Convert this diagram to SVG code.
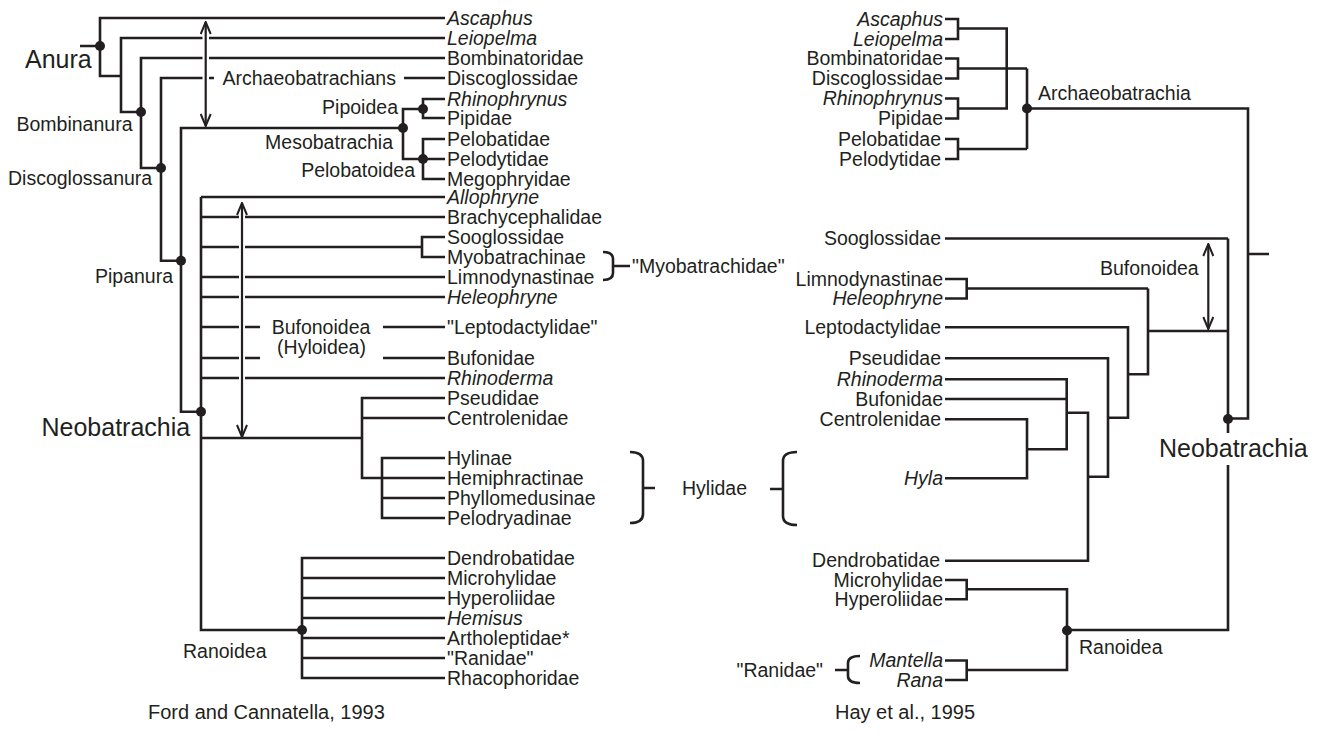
<svg xmlns="http://www.w3.org/2000/svg" width="1328" height="746" viewBox="0 0 1328 746">
<defs>
<style>
.ln{stroke:#231f20;stroke-width:2.6;fill:none;stroke-linecap:butt}
.ar{stroke:#231f20;stroke-width:2.2;fill:none}
.dot{fill:#231f20}
text{font-family:"Liberation Sans",Arial,Helvetica,sans-serif;font-size:19.5px;fill:#231f20}
.i{font-style:italic}
.big{font-size:25px}
.cap{font-size:20px}
.e{text-anchor:end}
.m{text-anchor:middle}
</style>
<marker id="vh" viewBox="0 0 14 12" refX="13" refY="6" markerUnits="userSpaceOnUse" markerWidth="14" markerHeight="12" orient="auto-start-reverse">
<path d="M1,1 L13,6 L1,11" fill="none" stroke="#231f20" stroke-width="2"/>
</marker>
</defs>
<rect width="1328" height="746" fill="#ffffff"/>

<g id="connectors">
<!-- Left tree: Ford and Cannatella 1993 -->
<path class="ln" d="M80 46 H100 M445 18 H100 V76 H121"/>
<path class="ln" d="M445 38 H209 M202.5 38 H121 V112 H141"/>
<path class="ln" d="M445 58 H209 M202.5 58 H141 V168 H161"/>
<path class="ln" d="M445 78 H404 M214 78 H209 M202.5 78 H161 V260.7 H181"/>
<path class="ln" d="M403 128 H181 V411.7 H201"/>
<path class="ln" d="M423 109 H403 V159 H423"/>
<path class="ln" d="M445 99 H423 V118 H445"/>
<path class="ln" d="M445 139 H423 V179 H445 M423 159 H445"/>
<path class="ln" d="M201 197 V630 H302 M445 197 H201"/>
<path class="ln" d="M201 217 H239 M245 217 H445"/>
<path class="ln" d="M201 247 H239 M245 247 H422 M445 237 H422 V257 H445"/>
<path class="ln" d="M201 277 H239 M245 277 H445"/>
<path class="ln" d="M201 297 H239 M245 297 H445"/>
<path class="ln" d="M201 327 H239 M245 327 H260 M383 327 H445"/>
<path class="ln" d="M201 358 H239 M245 358 H260 M383 358 H445"/>
<path class="ln" d="M201 378 H239 M245 378 H445"/>
<path class="ln" d="M201 438 H362 M445 398 H362 V478 H382 M445 418 H362"/>
<path class="ln" d="M445 458 H382 V518 H445 M382 478 H445 M382 498 H445"/>
<path class="ln" d="M445 558 H302 V678 H445 M302 578 H445 M302 598 H445 M302 618 H445 M302 638 H445 M302 658 H445"/>
<path class="ar" d="M205.7 22 V126" marker-start="url(#vh)" marker-end="url(#vh)"/>
<path class="ar" d="M242 203 V437" marker-start="url(#vh)" marker-end="url(#vh)"/>
<!-- braces -->
<path class="ln" d="M603 252 Q613 252 613 259 V273 Q613 280 603 280 M613 266 H630"/>
<path class="ln" d="M630 452 Q643 452 643 461 V514 Q643 523 630 523 M643 488 H655"/>
<path class="ln" d="M797 452 Q783 452 783 461 V516 Q783 525 797 525 M783 489 H770"/>
<path class="ln" d="M860 656 Q848 656 848 663 V676 Q848 683 860 683 M848 670 H835"/>
<!-- Right tree: Hay et al. 1995 -->
<path class="ln" d="M945 19 H958 V39 H945 M958 28.5 H1006.7 V108.5 H958"/>
<path class="ln" d="M945 98.5 H958 V118.5 H945"/>
<path class="ln" d="M945 58.5 H958 V78.5 H945 M958 68.5 H1027"/>
<path class="ln" d="M1027 68.5 V149 M945 139 H958 V159 H945 M958 149 H1027"/>
<path class="ln" d="M1027 108.5 H1248 V418.5 H1228 M1248 254 H1269"/>
<path class="ln" d="M1228 238.5 V433 M1228 465 V630 H1067"/>
<path class="ln" d="M945 238.5 H1228"/>
<path class="ln" d="M1228 331 H1148 V374.3 H1128 M1148 331 V288.5"/>
<path class="ln" d="M945 279 H966.7 V298.5 H945 M966.7 288.5 H1148"/>
<path class="ln" d="M945 327.3 H1128 V417.7 H1108"/>
<path class="ln" d="M945 358.3 H1108 V476.7 H1088"/>
<path class="ln" d="M945 379.3 H1066.7 V449.3 H1027 M945 399 H1066.7 M1066.7 412.7 H1088 V560.7 H945"/>
<path class="ln" d="M945 419.3 H1027 V478.3 H945"/>
<path class="ln" d="M945 580 H966.7 V599.3 H945 M966.7 589.3 H1067 V670 H966.7 M945 660.5 H966.7 V680 H945"/>
<path class="ar" d="M1208.3 244 V329" marker-start="url(#vh)" marker-end="url(#vh)"/>
</g>

<g id="nodes-left">
<g id="n-anura"><circle class="dot" cx="100" cy="46" r="5"/><text class="big" x="25" y="68">Anura</text></g>
<g id="n-bombinanura"><circle class="dot" cx="141" cy="112" r="5"/><text x="16.5" y="131">Bombinanura</text></g>
<g id="n-discoglossanura"><circle class="dot" cx="161" cy="168" r="5"/><text x="8" y="185">Discoglossanura</text></g>
<g id="n-pipanura"><circle class="dot" cx="181" cy="260.7" r="5"/><text x="95" y="283">Pipanura</text></g>
<g id="n-neobatrachia-l"><circle class="dot" cx="201" cy="411.7" r="5"/><text class="big" x="41.5" y="436">Neobatrachia</text></g>
<g id="n-mesobatrachia"><circle class="dot" cx="403" cy="128" r="5"/><text class="e" x="393" y="148.5">Mesobatrachia</text></g>
<g id="n-pipoidea"><circle class="dot" cx="423" cy="109" r="5"/><text class="e" x="398" y="114">Pipoidea</text></g>
<g id="n-pelobatoidea"><circle class="dot" cx="423" cy="159" r="5"/><text class="e" x="415" y="177">Pelobatoidea</text></g>
<g id="n-ranoidea-l"><circle class="dot" cx="302" cy="630" r="5"/><text x="183" y="658">Ranoidea</text></g>
<g id="n-archaeobatrachians"><text x="222.5" y="84.5">Archaeobatrachians</text></g>
<g id="n-bufonoidea-l"><text class="m" x="321" y="333.5">Bufonoidea</text><text class="m" x="321.5" y="354">(Hyloidea)</text></g>
<g id="n-myobatrachidae"><text x="632" y="272.5">"Myobatrachidae"</text></g>
<g id="n-hylidae"><text x="682" y="495">Hylidae</text></g>
<g id="tips-left">
<text class="i" x="447" y="24.5">Ascaphus</text>
<text class="i" x="447" y="44.5">Leiopelma</text>
<text x="447" y="64.5">Bombinatoridae</text>
<text x="447" y="84.5">Discoglossidae</text>
<text class="i" x="447" y="105.5">Rhinophrynus</text>
<text x="447" y="124.5">Pipidae</text>
<text x="447" y="145.5">Pelobatidae</text>
<text x="447" y="165.5">Pelodytidae</text>
<text x="447" y="185.5">Megophryidae</text>
<text class="i" x="447" y="203.5">Allophryne</text>
<text x="447" y="223.5">Brachycephalidae</text>
<text x="447" y="243.5">Sooglossidae</text>
<text x="447" y="263.5">Myobatrachinae</text>
<text x="447" y="283.5">Limnodynastinae</text>
<text class="i" x="447" y="303.5">Heleophryne</text>
<text x="447" y="333.5">"Leptodactylidae"</text>
<text x="447" y="364.5">Bufonidae</text>
<text class="i" x="447" y="384.5">Rhinoderma</text>
<text x="447" y="404.5">Pseudidae</text>
<text x="447" y="424.5">Centrolenidae</text>
<text x="447" y="464.5">Hylinae</text>
<text x="447" y="484.5">Hemiphractinae</text>
<text x="447" y="504.5">Phyllomedusinae</text>
<text x="447" y="524.5">Pelodryadinae</text>
<text x="447" y="564.5">Dendrobatidae</text>
<text x="447" y="584.5">Microhylidae</text>
<text x="447" y="604.5">Hyperoliidae</text>
<text class="i" x="447" y="624.5">Hemisus</text>
<text x="447" y="644.5">Artholeptidae*</text>
<text x="447" y="664.5">"Ranidae"</text>
<text x="447" y="684.5">Rhacophoridae</text>
</g>
<g id="caption-left"><text class="cap" x="148" y="719">Ford and Cannatella, 1993</text></g>
</g>

<g id="nodes-right">
<g id="n-archaeobatrachia"><circle class="dot" cx="1027" cy="108.5" r="5"/><text x="1038" y="100">Archaeobatrachia</text></g>
<g id="n-neobatrachia-r"><circle class="dot" cx="1228" cy="419" r="5"/><text class="big" x="1159" y="457">Neobatrachia</text></g>
<g id="n-ranoidea-r"><circle class="dot" cx="1067" cy="630.5" r="5"/><text x="1079" y="654">Ranoidea</text></g>
<g id="n-bufonoidea-r"><text x="1100" y="275">Bufonoidea</text></g>
<g id="n-ranidae-r"><text class="e" x="823" y="677">"Ranidae"</text></g>
<g id="tips-right">
<text class="e i" x="943" y="25.5">Ascaphus</text>
<text class="e i" x="943" y="45.5">Leiopelma</text>
<text class="e" x="943" y="65">Bombinatoridae</text>
<text class="e" x="943" y="85">Discoglossidae</text>
<text class="e i" x="943" y="105">Rhinophrynus</text>
<text class="e" x="943" y="125">Pipidae</text>
<text class="e" x="941" y="145.5">Pelobatidae</text>
<text class="e" x="941" y="165.5">Pelodytidae</text>
<text class="e" x="941" y="245">Sooglossidae</text>
<text class="e" x="943" y="285.5">Limnodynastinae</text>
<text class="e i" x="943" y="305">Heleophryne</text>
<text class="e" x="941" y="334">Leptodactylidae</text>
<text class="e" x="941" y="365">Pseudidae</text>
<text class="e i" x="943" y="386">Rhinoderma</text>
<text class="e" x="943" y="405.5">Bufonidae</text>
<text class="e" x="941" y="426">Centrolenidae</text>
<text class="e i" x="943" y="485">Hyla</text>
<text class="e" x="940" y="567">Dendrobatidae</text>
<text class="e" x="943" y="586.5">Microhylidae</text>
<text class="e" x="943" y="606">Hyperoliidae</text>
<text class="e i" x="943" y="667">Mantella</text>
<text class="e i" x="943" y="686.5">Rana</text>
</g>
<g id="caption-right"><text class="cap" x="835" y="719">Hay et al., 1995</text></g>
</g>
</svg>
